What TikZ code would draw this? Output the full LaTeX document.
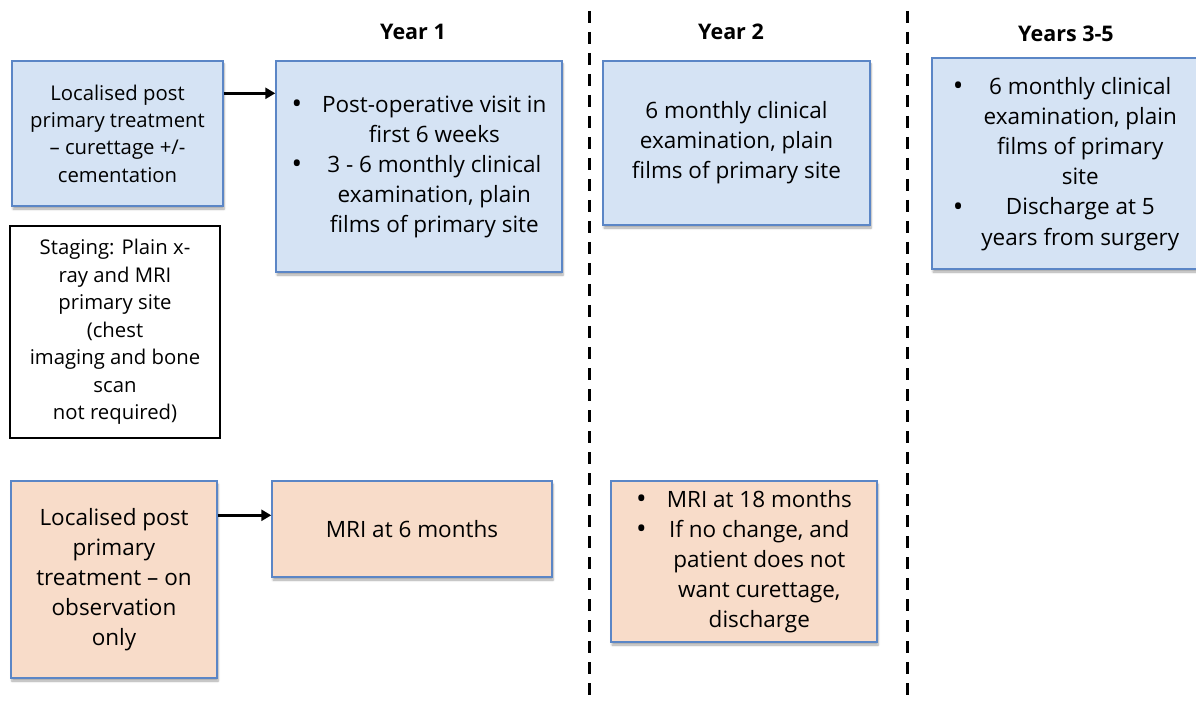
\documentclass[tikz,border=0pt]{standalone}
\usepackage{fontspec}
\setmainfont{Open Sans}
\usetikzlibrary{arrows.meta,shadows.blur,calc}
\definecolor{bfill}{HTML}{D5E3F4}
\definecolor{bdraw}{HTML}{5B86C6}
\definecolor{ofill}{HTML}{F8DCC9}
\newcommand\myfs[2]{\fontsize{#1}{#2}\selectfont}
\newcommand\bul{\raisebox{-0.06em}{\scalebox{1.25}{\textbullet}}}
\tikzset{
  box/.style={draw=bdraw, line width=1.4pt, inner sep=0pt, align=center,
    blur shadow={shadow xshift=1pt, shadow yshift=-3pt, shadow blur steps=6, shadow opacity=35}},
  bluebox/.style={box, fill=bfill},
  orangebox/.style={box, fill=ofill},
  plainbox/.style={draw=black, line width=1.4pt, fill=white, inner sep=0pt, align=center},
  header/.style={font=\myfs{21.5}{24}\bfseries},
  arr/.style={line width=2.8pt, -{Triangle[length=10pt,width=11pt]}},
  divider/.style={line width=3pt, dash pattern=on 12pt off 9pt},
}
\begin{document}
\begin{tikzpicture}[x=1pt,y=1pt]
\useasboundingbox (0,0) rectangle (1196,-708);

% headers
\node[header] (h1) at (413,-32) {Year 1};
\node[header] (h2) at (731,-32) {Year 2};
\node[header] (h3) at (1066,-34) {Years 3-5};

% dividers
\draw[divider] (589,-11) -- (589,-700);
\draw[divider] (907,-11) -- (907,-700);

% left column
\node[bluebox, minimum width=211pt, minimum height=145pt, font=\myfs{20.3}{27.3}] (a1) at (117.5,-133.5)
  {Localised post\\primary treatment\\– curettage +/-\\cementation};
\node[plainbox, minimum width=210pt, minimum height=212pt, font=\myfs{20.3}{27.5}] (stg) at (115,-332)
  {Staging: Plain x-\\ray and MRI\\primary site\\(chest\\imaging and bone\\scan\\not required)};
\node[orangebox, minimum width=206pt, minimum height=197pt, font=\myfs{22.5}{30}] (o1) at (114,-579.5)
  {Localised post\\primary\\treatment – on\\observation\\only};

% year 1
\node[bluebox, minimum width=286pt, minimum height=211pt, font=\myfs{22.5}{30.2}] (b1) at (419,-166.5)
  {\begin{tabular}{@{}c@{\hspace{20pt}}c@{}}
   \bul & Post-operative visit in\\
   & first 6 weeks\\
   \bul & 3 - 6 monthly clinical\\
   & examination, plain\\
   & films of primary site
   \end{tabular}};
\node[orangebox, minimum width=280pt, minimum height=96pt, font=\myfs{22.5}{30}] (o2) at (412,-529)
  {MRI at 6 months};

% year 2
\node[bluebox, minimum width=267pt, minimum height=164pt, font=\myfs{22.5}{30}] (c1) at (736.5,-143)
  {6 monthly clinical\\examination, plain\\films of primary site};
\node[orangebox, minimum width=266pt, minimum height=161pt, font=\myfs{22.5}{30.2}] (o3) at (744,-561.5)
  {\begin{tabular}{@{}c@{\hspace{20pt}}c@{}}
   \bul & MRI at 18 months\\
   \bul & If no change, and\\
   & patient does not\\
   & want curettage,\\
   & discharge
   \end{tabular}};

% years 3-5
\node[bluebox, minimum width=268pt, minimum height=211pt, font=\myfs{22.5}{30.2}] (d1) at (1066,-163.5)
  {\begin{tabular}{@{}c@{\hspace{18pt}}c@{}}
   \bul & 6 monthly clinical\\
   & examination, plain\\
   & films of primary\\
   & site\\
   \bul & Discharge at 5\\
   & years from surgery
   \end{tabular}};

% arrows
\draw[arr] ([yshift=-33pt]a1.north east) -- ([yshift=-33pt]a1.north east -| b1.west);
\draw[arr] ([yshift=-35pt]o1.north east) -- ([yshift=-35pt]o1.north east -| o2.west);
\end{tikzpicture}
\end{document}
